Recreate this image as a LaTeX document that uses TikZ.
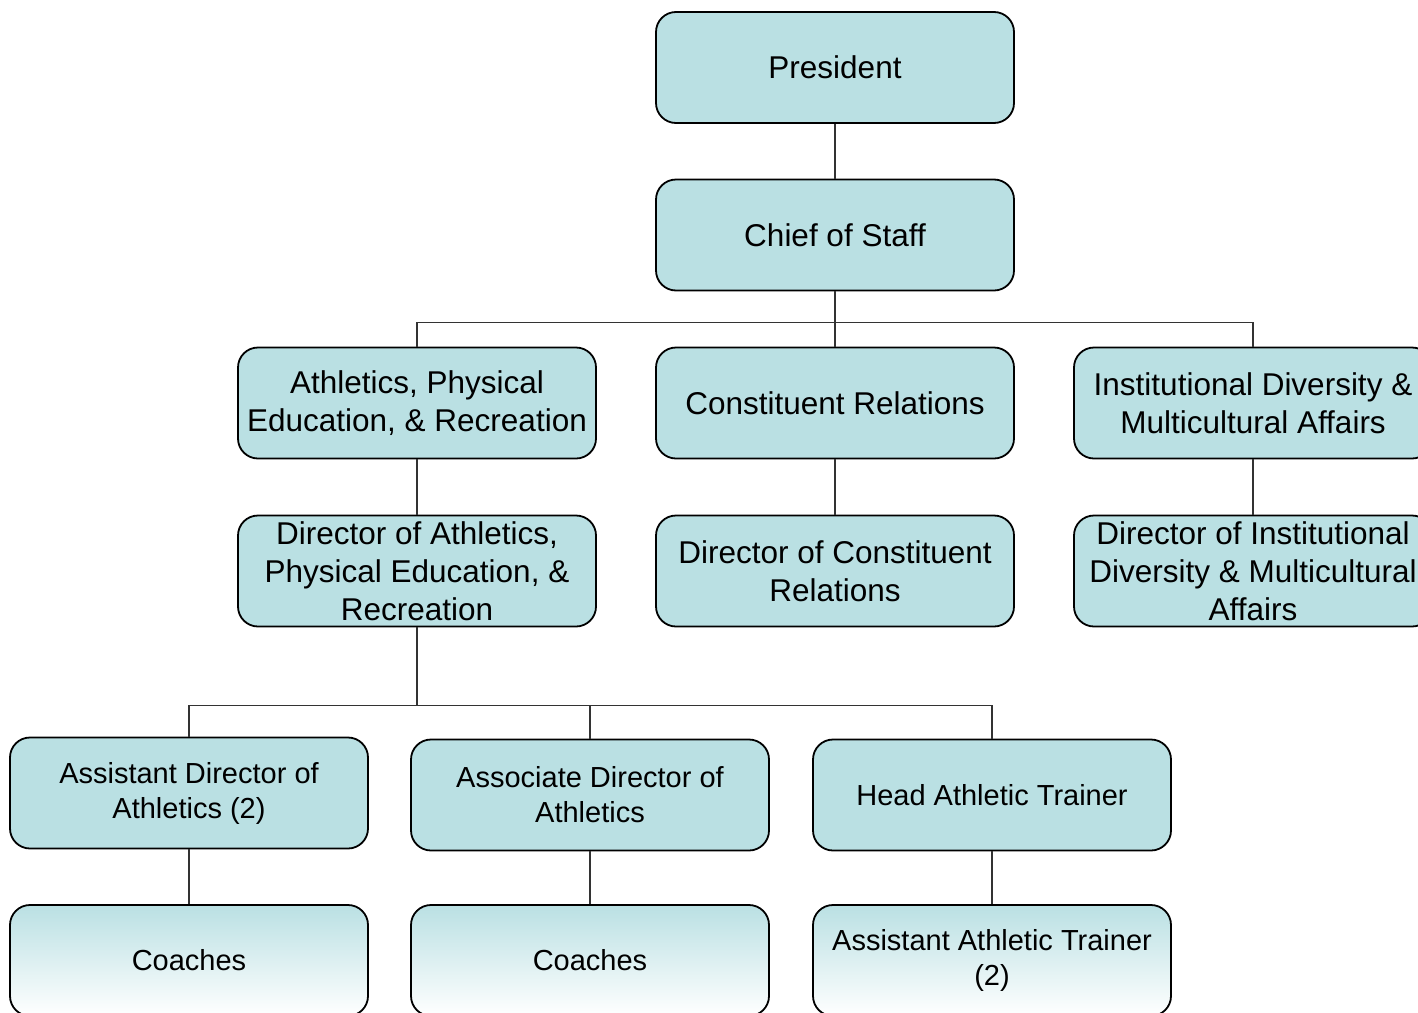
\documentclass[tikz,border=0pt]{standalone}
\usepackage{fontspec}
\setmainfont{Liberation Sans}
\definecolor{boxteal}{RGB}{186,224,227}
\begin{document}
\begin{tikzpicture}[x=1pt, y=-1pt]
% define node styles
\tikzstyle{every node} = [draw, rounded corners=20pt, line width=1.8pt, minimum width=358pt, minimum height=111pt, align=center, inner sep=2pt, font=\fontsize{31.5}{38}\selectfont]
\tikzstyle{unit}  = [fill=boxteal]
\tikzstyle{post}  = [fill=boxteal, font=\fontsize{29}{35}\selectfont]
\tikzstyle{leaf}  = [top color=boxteal, bottom color=white, font=\fontsize{29}{35}\selectfont]
\tikzstyle{link}  = [line width=1.2pt, draw=black!80]

\clip (0,0) rectangle (1418,1012);

% office nodes
\foreach \n/\x/\y/\txt in {pres/835/67.5/President, cos/835/235/Chief of Staff,
    ape/417/403/{Athletics, Physical\\Education, \& Recreation},
    cr/835/403/Constituent Relations,
    idma/1253/403/{Institutional Diversity \&\\Multicultural Affairs},
    dape/417/571/{Director of Athletics,\\Physical Education, \&\\Recreation},
    dcr/835/571/{Director of Constituent\\Relations},
    didma/1253/571/{Director of Institutional\\Diversity \& Multicultural\\Affairs}}
    \node [unit] (\n) at (\x,\y) {\txt};

% athletics staff nodes
\foreach \n/\x/\y/\txt in {asd/189/793/{Assistant Director of\\Athletics (2)},
    assoc/590/795/{Associate Director of\\Athletics},
    hat/992/795/Head Athletic Trainer}
    \node [post] (\n) at (\x,\y) {\txt};

\foreach \n/\x/\txt in {coach1/189/Coaches, coach2/590/Coaches,
    aat/992/{Assistant Athletic Trainer\\(2)}}
    \node [leaf] (\n) at (\x,960.5) {\txt};

% edges
\foreach \from/\to in {pres/cos, ape/dape, cr/dcr, idma/didma, asd/coach1, assoc/coach2, hat/aat}
    \draw [link] (\from) -- (\to);

\foreach \to in {ape, cr, idma}
    \draw [link] (cos.south) -- ++(0,31) -| (\to.north);

\foreach \to in {asd, assoc, hat}
    \draw [link] (dape.south) -- ++(0,78) -| (\to.north);

\end{tikzpicture}
\end{document}
